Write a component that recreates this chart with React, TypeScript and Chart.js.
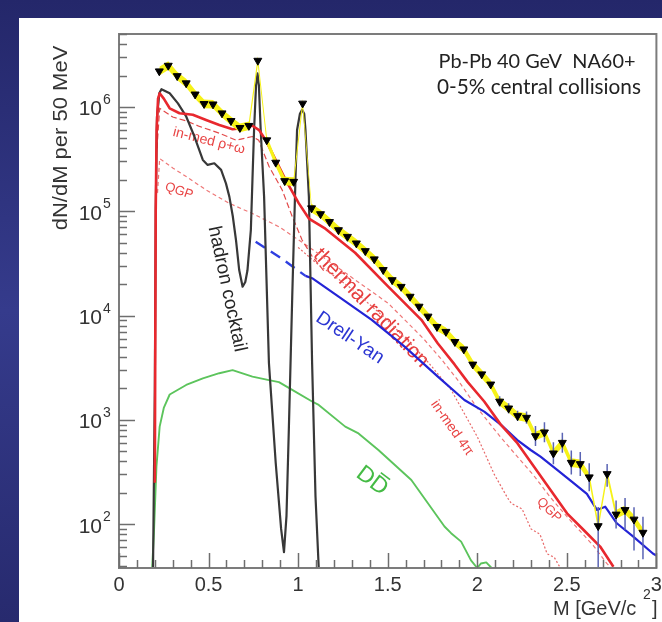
import React, { useEffect, useRef } from 'react';
import { Chart, registerables } from 'chart.js';
Chart.register(...registerables);

const FONT = '"Liberation Sans", Arial, Helvetica, sans-serif';

// ---------- axis setup ----------
const X_MIN = 0;
const X_MAX = 3;
const Y_MIN = 38;
const Y_MAX = 5e6;
const xTickValues = [0, 0.5, 1, 1.5, 2, 2.5, 3];
const xTickLabels = ['0', '0.5', '1', '1.5', '2', '2.5', '3'];
const yTickExponents = [2, 3, 4, 5, 6];

// ---------- NA60+ projected data (per 50 MeV bin) ----------
const dataMass = [0.225, 0.275, 0.325, 0.375, 0.425, 0.475, 0.525, 0.575, 0.625, 0.675, 0.725,
  0.775, 0.825, 0.875, 0.925, 0.975, 1.025,
  1.075, 1.125, 1.175, 1.225, 1.275, 1.325, 1.375, 1.425, 1.475, 1.525, 1.575, 1.625, 1.675, 1.725, 1.775, 1.825, 1.875, 1.925, 1.975,
  2.025, 2.075, 2.125, 2.175, 2.225, 2.275, 2.325, 2.375, 2.425, 2.475, 2.525, 2.575, 2.625, 2.675, 2.725, 2.775, 2.825, 2.875, 2.925];
const dataYield = [2.2e6, 2.49e6, 1.98e6, 1.69e6, 1.32e6, 1.07e6, 1.06e6, 8.7e5, 7.35e5, 6.3e5, 6.6e5,
  2.78e6, 4.8e5, 2.93e5, 1.95e5, 1.92e5, 1.08e6,
  1.07e5, 9.4e4, 7.9e4, 6.6e4, 5.7e4, 4.93e4, 4.16e4, 3.47e4, 2.74e4, 2.19e4, 1.89e4, 1.52e4, 1.22e4, 9.8e3, 7.8e3, 7.0e3, 5.6e3, 4.75e3, 3.4e3,
  2.74e3, 2.19e3, 1.5e3, 1.29e3, 1.09e3, 1.05e3, 700, 760, 478, 604, 389, 378, 282, 96, 303, 124, 137, 111, 83];
const BAND_FACTOR = 1.1; // systematic band half-width (multiplicative)

const errMass = [2.125, 2.175, 2.225, 2.275, 2.325, 2.375, 2.425, 2.475, 2.525, 2.575, 2.625, 2.675, 2.725, 2.775, 2.825, 2.875, 2.925];
const errHigh = [1680, 1440, 1220, 1200, 873, 948, 609, 753, 507, 492, 384, 146, 378, 169, 178, 145, 118];
const errLow = [1340, 1150, 975, 920, 561, 609, 375, 484, 299, 290, 207, 20, 228, 91, 88, 56, 46];

// ---------- hadron cocktail ----------
const cocktailMass = [0.19, 0.2, 0.205, 0.212, 0.225, 0.237, 0.283, 0.329, 0.375, 0.421,
  0.468, 0.495, 0.532, 0.57, 0.597, 0.616, 0.635, 0.653, 0.671, 0.69,
  0.705, 0.717, 0.736, 0.745, 0.754, 0.765, 0.773, 0.781, 0.791, 0.81,
  0.837, 0.875, 0.905, 0.921, 0.935, 0.948, 0.967, 0.985, 0.994, 1.01,
  1.022, 1.034, 1.041, 1.06, 1.078, 1.097, 1.115, 1.116, 1.2, 2.13];
const cocktailYield = [38, 2000, 1e5, 8e5, 1.35e6, 1.48e6, 1.35e6, 1.08e6, 8.1e5, 5.2e5,
  3.1e5, 2.78e5, 2.88e5, 2.49e5, 1.85e5, 1.38e5, 9e4, 5.3e4, 2.73e4, 1.89e4,
  2.1e4, 2.7e4, 6.6e4, 2e5, 6e5, 1.6e6, 2.1e6, 1.6e6, 6e5, 1.38e5,
  3.5e3, 384, 90, 54, 120, 800, 1.5e4, 2e5, 6e5, 8.6e5,
  9.4e5, 8.6e5, 6e5, 1.38e5, 3.5e3, 184, 38, null, 38, 38];

// ---------- thermal radiation ----------
const thermalMass = [0.2, 0.205, 0.21, 0.218, 0.227, 0.25, 0.283, 0.338, 0.412, 0.486,
  0.56, 0.634, 0.699, 0.745, 0.782, 0.819, 0.875, 0.93, 1.004, 1.06,
  1.152, 1.318, 1.503, 1.688, 1.78, 1.873, 1.947, 2.039, 2.131, 2.224,
  2.317, 2.409, 2.501, 2.594, 2.686, 2.76];
const thermalYield = [250, 1e5, 6e5, 1.2e6, 1.35e6, 1.2e6, 9.7e5, 8.7e5, 8.4e5, 7.5e5,
  6.7e5, 6.1e5, 6.3e5, 6.6e5, 6e5, 4.8e5, 3.1e5, 2e5, 1.19e5, 8.5e4,
  6.8e4, 4.0e4, 1.89e4, 9.1e3, 5.4e3, 3.4e3, 2.3e3, 1.5e3, 900, 597,
  356, 213, 127, 88, 61, 39];

// ---------- in-medium rho+omega ----------
const rhoMass = [0.212, 0.227, 0.3, 0.38, 0.449, 0.56, 0.653, 0.745, 0.78, 0.837, 0.911, 0.967, 1.022, 1.078, 1.15];
const rhoYield = [4e5, 9.7e5, 8e5, 7.3e5, 6.5e5, 5.6e5, 4.8e5, 5.2e5, 4.8e5, 2.7e5, 1.6e5, 8.9e4, 5.3e4, 3.7e4, 2.6e4];

// ---------- QGP ----------
const qgpMass = [0.215, 0.227, 0.3, 0.375, 0.486, 0.616, 0.745, 0.893, 1.04, 1.133,
  1.318, 1.503, 1.7, 1.8, 1.9, 2.0, 2.131, 2.317, 2.409, 2.501, 2.649, 2.723, 2.75];
const qgpYield = [1.5e5, 3.2e5, 2.6e5, 2.15e5, 1.6e5, 1.19e5, 9.5e4, 7.1e4, 4.8e4, 3.7e4,
  2.2e4, 1.31e4, 6e3, 3.8e3, 2.3e3, 1.3e3, 680, 290, 180, 118, 62, 42, 38];

// ---------- in-medium 4 pi ----------
const fourPiMass = [1.0, 1.1, 1.3, 1.5, 1.707, 1.854, 2.0, 2.095, 2.168, 2.19, 2.25, 2.3, 2.35, 2.39, 2.43, 2.464];
const fourPiYield = [4.5e4, 3.2e4, 1.8e4, 9e3, 3.9e3, 1.94e3, 690, 300, 180, 158, 140, 90, 80, 52, 48, 38];

// ---------- Drell-Yan ----------
const dyDashMass = [0.763, 0.9, 1.041];
const dyDashYield = [5.1e4, 3.6e4, 2.4e4];
const dyMass = [1.041, 1.078, 1.226, 1.411, 1.596, 1.78, 1.928, 2.039, 2.131, 2.224,
  2.298, 2.353, 2.446, 2.538, 2.612, 2.668, 2.714, 2.779, 2.871, 2.982, 3.0];
const dyYield = [2.4e4, 2.28e4, 1.52e4, 9.1e3, 5e3, 2.6e3, 1.55e3, 1.2e3, 900, 640,
  514, 444, 331, 247, 195, 137, 147, 102, 76, 52, 50];

// ---------- open charm DDbar ----------
const ddMass = [0, 0.185, 0.195, 0.209, 0.227, 0.25, 0.283, 0.375, 0.468, 0.56,
  0.634, 0.745, 0.837, 0.893, 0.967, 1.078, 1.115, 1.263, 1.337, 1.448,
  1.632, 1.817, 1.854, 1.91, 1.965, 2.0, 2.02, 2.05, 2.08, 3.0];
const ddYield = [38, 38, 82, 356, 861, 1300, 1750, 2160, 2500, 2800,
  3000, 2600, 2400, 2300, 1940, 1500, 1390, 861, 741, 514,
  265, 95, 82, 68, 45, 38, 42, 43, 38, 38];

function pts(xs: number[], ys: (number | null)[]) {
  return xs.map((x, i) => ({ x, y: ys[i] }));
}

function drawRotated(ctx: CanvasRenderingContext2D, text: string, x: number, y: number, deg: number, size: number, color: string) {
  ctx.save();
  ctx.translate(x, y);
  ctx.rotate((deg * Math.PI) / 180);
  ctx.font = `${size}px ${FONT}`;
  ctx.fillStyle = color;
  ctx.textAlign = 'center';
  ctx.textBaseline = 'middle';
  ctx.fillText(text, 0, 0);
  ctx.restore();
}

export default function App() {
  const ref = useRef<HTMLCanvasElement>(null);

  useEffect(() => {
    const canvas = ref.current as HTMLCanvasElement;

    const decor = {
      id: 'decor',
      beforeDraw(chart: any) {
        const ctx = chart.ctx as CanvasRenderingContext2D;
        const W = chart.width, H = chart.height;
        ctx.save();
        const g = ctx.createLinearGradient(0, 0, 0, H);
        g.addColorStop(0, '#24276a');
        g.addColorStop(0.5, '#353b8c');
        g.addColorStop(1, '#272a6e');
        ctx.fillStyle = g;
        ctx.fillRect(0, 0, W, H);
        ctx.fillStyle = '#ffffff';
        ctx.fillRect(19, 18, W - 19, H - 18);
        ctx.restore();
      },
      beforeDatasetsDraw(chart: any) {
        const ctx = chart.ctx as CanvasRenderingContext2D;
        drawRotated(ctx, 'hadron cocktail', 227, 289, 78, 19, '#262626');
        drawRotated(ctx, 'thermal radiation', 371, 308, 46, 21, '#e63c3c');
        drawRotated(ctx, 'Drell-Yan', 350, 338, 34, 19, '#2b35d2');
        drawRotated(ctx, 'in-med \u03c1+\u03c9', 209, 141, 14, 14, '#e84545');
        drawRotated(ctx, 'QGP', 179, 191, 19, 13, '#e84545');
        drawRotated(ctx, 'in-med 4\u03c0', 452, 428, 55, 14, '#e84545');
        drawRotated(ctx, 'QGP', 549, 510, 45, 13, '#e84545');
        // D Dbar
        ctx.save();
        ctx.translate(372, 481);
        ctx.rotate((37 * Math.PI) / 180);
        ctx.font = `23px ${FONT}`;
        ctx.fillStyle = '#45bb45';
        ctx.strokeStyle = '#45bb45';
        ctx.textAlign = 'left';
        ctx.textBaseline = 'middle';
        const wD = ctx.measureText('D').width;
        ctx.fillText('DD', -wD, 0);
        ctx.lineWidth = 1.6;
        ctx.beginPath();
        ctx.moveTo(2, -12);
        ctx.lineTo(wD - 3, -12);
        ctx.stroke();
        ctx.restore();
      },
      afterDatasetDraw(chart: any, args: any) {
        if (args.index !== 1) return;
        const ctx = chart.ctx as CanvasRenderingContext2D;
        const xs = chart.scales.x, ys = chart.scales.y, a = chart.chartArea;
        ctx.save();
        ctx.beginPath();
        ctx.rect(a.left, a.top, a.right - a.left, a.bottom - a.top);
        ctx.clip();
        ctx.strokeStyle = '#5a64b4';
        ctx.lineWidth = 1.5;
        errMass.forEach((m, i) => {
          const x = xs.getPixelForValue(m);
          ctx.beginPath();
          ctx.moveTo(x, ys.getPixelForValue(errHigh[i]));
          ctx.lineTo(x, ys.getPixelForValue(Math.max(errLow[i], 1)));
          ctx.stroke();
        });
        ctx.restore();
      },
      afterDraw(chart: any) {
        const ctx = chart.ctx as CanvasRenderingContext2D;
        const xs = chart.scales.x, ys = chart.scales.y, a = chart.chartArea;
        ctx.save();
        // frame
        ctx.strokeStyle = '#7c7c7c';
        ctx.lineWidth = 2;
        ctx.strokeRect(a.left, a.top, a.right - a.left, a.bottom - a.top);
        // y ticks
        ctx.lineWidth = 1.5;
        ctx.strokeStyle = '#6e6e6e';
        for (let e = 1; e <= 7; e++) {
          for (let m = 1; m <= 9; m++) {
            const v = m * Math.pow(10, e);
            if (v < Y_MIN || v > Y_MAX) continue;
            const y = Math.round(ys.getPixelForValue(v)) + 0.5;
            const len = m === 1 ? 16 : 8;
            ctx.beginPath();
            ctx.moveTo(a.left, y);
            ctx.lineTo(a.left + len, y);
            ctx.stroke();
          }
        }
        // x ticks
        for (let i = 0; i <= 30; i++) {
          const v = X_MIN + i * 0.1;
          const x = Math.round(xs.getPixelForValue(v)) + 0.5;
          const len = i % 5 === 0 ? 15 : 8;
          ctx.beginPath();
          ctx.moveTo(x, a.bottom);
          ctx.lineTo(x, a.bottom - len);
          ctx.stroke();
        }
        // x tick labels
        ctx.fillStyle = '#333333';
        ctx.font = `20px ${FONT}`;
        ctx.textAlign = 'center';
        ctx.textBaseline = 'alphabetic';
        xTickValues.forEach((v, i) => {
          ctx.fillText(xTickLabels[i], xs.getPixelForValue(v), a.bottom + 23);
        });
        // y tick labels 10^n
        yTickExponents.forEach((e) => {
          const y = ys.getPixelForValue(Math.pow(10, e));
          ctx.font = `21px ${FONT}`;
          ctx.textAlign = 'right';
          ctx.fillText('10', 102, y + 8.5);
          ctx.font = `14px ${FONT}`;
          ctx.textAlign = 'left';
          ctx.fillText(String(e), 103, y - 3);
        });
        // y title
        ctx.save();
        ctx.translate(61, 138);
        ctx.rotate(-Math.PI / 2);
        ctx.scale(1.1, 1);
        ctx.font = `20px ${FONT}`;
        ctx.textAlign = 'center';
        ctx.textBaseline = 'middle';
        ctx.fillText('dN/dM per 50 MeV', 0, 0);
        ctx.restore();
        // x title M [GeV/c^2]
        ctx.font = `20px ${FONT}`;
        ctx.textAlign = 'left';
        ctx.fillText('M [GeV/c', 553, 615);
        ctx.font = `14px ${FONT}`;
        ctx.fillText('2', 643, 599);
        ctx.font = `20px ${FONT}`;
        ctx.fillText(']', 652, 615);
        // header text
        const fam = 'Lato, "Open Sans", sans-serif';
        const fit = (t: string, w: number) => {
          ctx.font = `20px ${fam}`;
          return (20 * w) / ctx.measureText(t).width;
        };
        ctx.fillStyle = '#222222';
        ctx.textAlign = 'center';
        ctx.textBaseline = 'middle';
        const l1 = 'Pb-Pb 40 GeV  NA60+';
        const l2 = '0-5% central collisions';
        ctx.font = `${fit(l1, 197)}px ${fam}`;
        ctx.fillText(l1, 537, 62);
        ctx.font = `${fit(l2, 204)}px ${fam}`;
        ctx.fillText(l2, 539, 87);
        ctx.restore();
      },
    };

    const chart = new Chart(canvas, {
      type: 'line',
      data: {
        datasets: [
          {
            label: 'data',
            data: pts(dataMass, dataYield),
            showLine: false,
            pointStyle: 'triangle',
            rotation: 180,
            pointRadius: 4.6,
            backgroundColor: '#000000',
            borderColor: '#000000',
            borderWidth: 1,
          },
          {
            label: 'band hi',
            data: pts(dataMass, dataYield.map((v) => v * BAND_FACTOR)),
            borderColor: 'rgba(0,0,0,0)',
            borderWidth: 0,
            backgroundColor: '#f6f218',
            fill: '+1',
            pointRadius: 0,
          },
          {
            label: 'band lo',
            data: pts(dataMass, dataYield.map((v) => v / BAND_FACTOR)),
            borderColor: 'rgba(0,0,0,0)',
            borderWidth: 0,
            fill: false,
            pointRadius: 0,
          },
          {
            label: 'thermal radiation',
            data: pts(thermalMass, thermalYield),
            borderColor: '#e8282e',
            borderWidth: 2.6,
            fill: false,
            pointRadius: 0,
            borderJoinStyle: 'round',
          },
          {
            label: 'hadron cocktail',
            data: pts(cocktailMass, cocktailYield),
            borderColor: '#383838',
            borderWidth: 2.2,
            fill: false,
            pointRadius: 0,
            spanGaps: false,
            borderJoinStyle: 'round',
          },
          {
            label: 'Drell-Yan',
            data: pts(dyMass, dyYield),
            borderColor: '#2424d6',
            borderWidth: 2.2,
            fill: false,
            pointRadius: 0,
            borderJoinStyle: 'round',
          },
          {
            label: 'Drell-Yan (extrapolated)',
            data: pts(dyDashMass, dyDashYield),
            borderColor: '#2f3fe0',
            borderWidth: 2.4,
            borderDash: [11, 7],
            fill: false,
            pointRadius: 0,
          },
          {
            label: 'DDbar',
            data: pts(ddMass, ddYield),
            borderColor: '#5cc45c',
            borderWidth: 1.9,
            fill: false,
            pointRadius: 0,
            borderJoinStyle: 'round',
          },
          {
            label: 'in-med rho+omega',
            data: pts(rhoMass, rhoYield),
            borderColor: '#e24a4a',
            borderWidth: 1.2,
            borderDash: [6, 3],
            fill: false,
            pointRadius: 0,
          },
          {
            label: 'QGP',
            data: pts(qgpMass, qgpYield),
            borderColor: '#ee7878',
            borderWidth: 1.2,
            borderDash: [4, 3],
            fill: false,
            pointRadius: 0,
          },
          {
            label: 'in-med 4pi',
            data: pts(fourPiMass, fourPiYield),
            borderColor: '#e86a6a',
            borderWidth: 1.2,
            borderDash: [2, 2],
            fill: false,
            pointRadius: 0,
          },
        ],
      },
      options: {
        responsive: false,
        animation: false,
        devicePixelRatio: 1,
        events: [],
        layout: { padding: { left: 119, top: 34, right: 2, bottom: 54 } },
        plugins: {
          legend: { display: false },
          tooltip: { enabled: false },
          title: { display: false },
        },
        elements: { line: { tension: 0 }, point: { radius: 0 } },
        scales: {
          x: { type: 'linear', min: X_MIN, max: X_MAX, display: false },
          y: { type: 'logarithmic', min: Y_MIN, max: Y_MAX, display: false },
        },
      } as any,
      plugins: [decor as any],
    });

    return () => chart.destroy();
  }, []);

  return (
    <div style={{ position: 'absolute', left: 0, top: 0, width: 662, height: 622 }}>
      <canvas ref={ref} width={662} height={622} style={{ display: 'block', width: 662, height: 622 }} />
    </div>
  );
}
